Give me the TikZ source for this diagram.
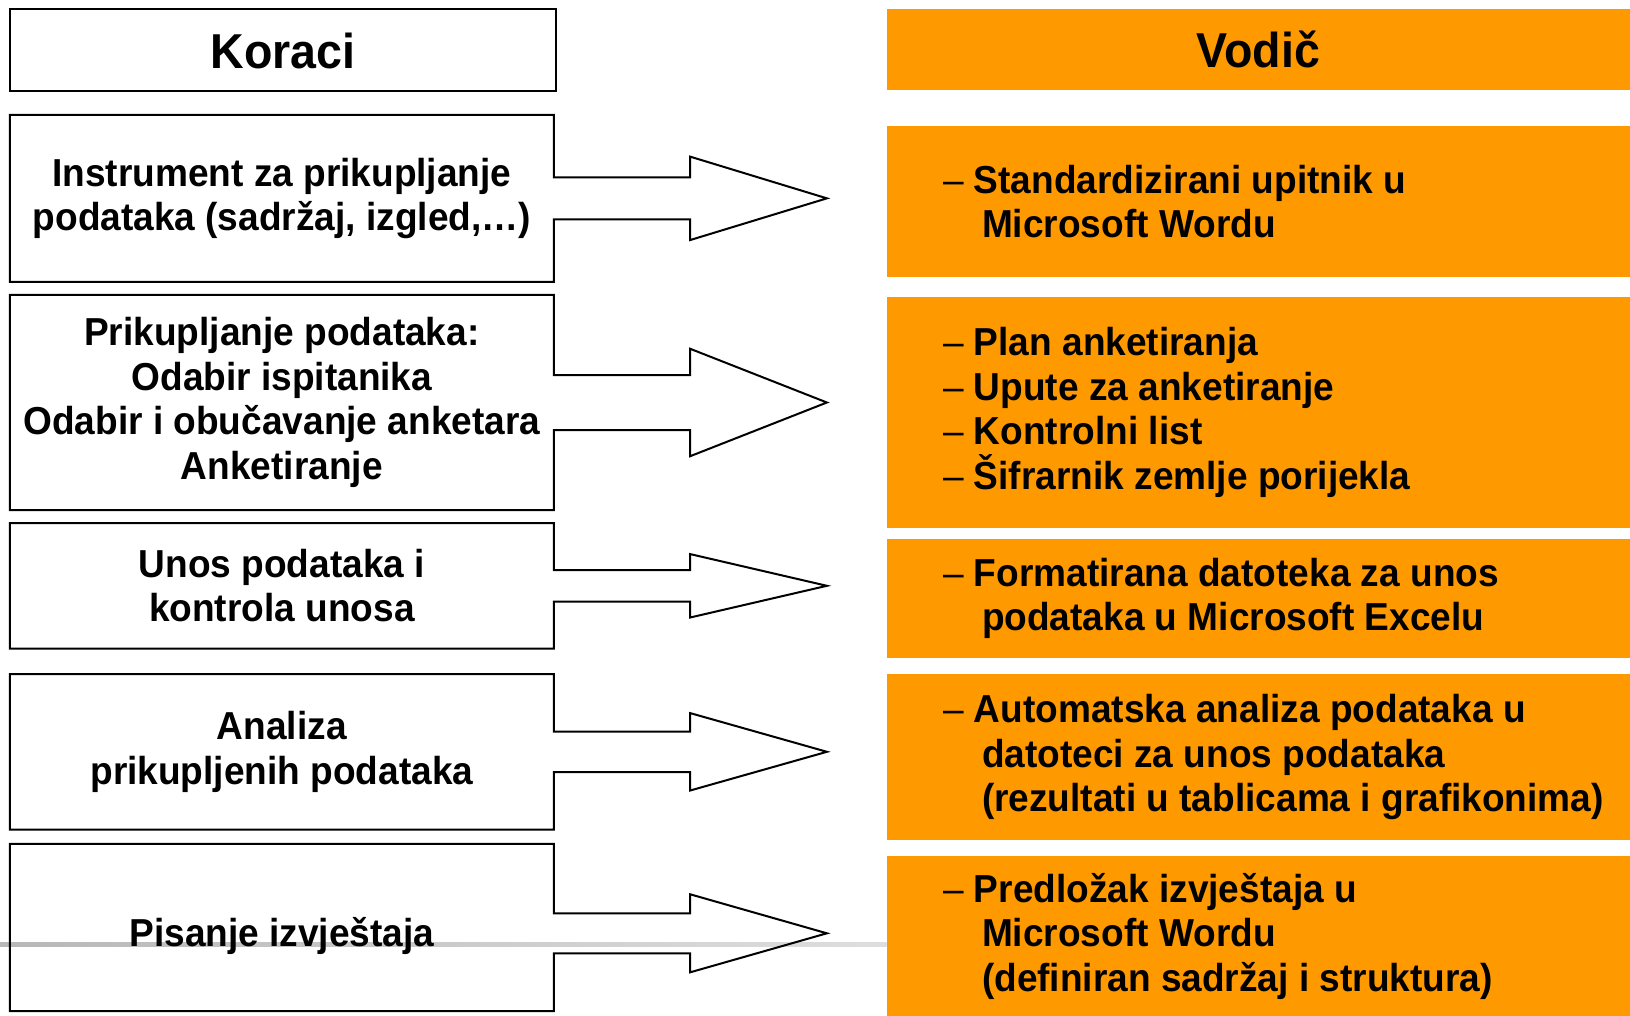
\documentclass[tikz,border=0pt]{standalone}
\usepackage{fontspec}
\setmainfont{Liberation Sans}[FakeStretch=0.95]
\usetikzlibrary{calc}
\definecolor{narancasta}{RGB}{255,153,0}
\newcommand{\tekst}{\fontsize{39}{44.5}\selectfont\bfseries}
\newcommand{\naslov}{\fontsize{49}{55}\selectfont\bfseries}
\tikzset{
  korak/.style={minimum width=543.7pt, inner sep=0pt, align=center, font=\tekst},
  vodic/.style={fill=narancasta, minimum width=743.3pt, inner sep=0pt},
  stavka/.style={anchor=west, align=left, font=\tekst},
  obrub/.style={line width=2pt, line join=miter},
}
% okvir koraka zajedno sa strelicom: cvor, pola drske, pola glave, pomak
\newcommand{\strelica}[4]{%
  \draw[obrub] (#1.north west) -- (#1.north east)
    -- ($(#1.east)+(0,#4-#2)$) -- ($(#1.east)+(136.3,#4-#2)$)
    -- ($(#1.east)+(136.3,#4-#3)$) -- ($(#1.east)+(273,#4)$)
    -- ($(#1.east)+(136.3,#4+#3)$) -- ($(#1.east)+(136.3,#4+#2)$)
    -- ($(#1.east)+(0,#4+#2)$) -- (#1.south east) -- (#1.south west) -- cycle;}
\newcommand{\crta}{{\mdseries –}}
\newcommand{\dalje}{\hspace*{1em}}

\begin{document}
\begin{tikzpicture}[x=1pt,y=-1pt]
  \useasboundingbox (0,0) rectangle (1630,1016);
  % siva crta u pozadini
  \shade[left color=black!28, right color=black!13] (0,942.5) rectangle (886.7,946.5);

  % zaglavlja
  \node[korak, draw, obrub, minimum width=545.6pt, minimum height=82pt, font=\naslov] (k0) at (283.2,50.5) {Koraci};
  \node[vodic, minimum height=81pt, font=\naslov] (v0) at (1258.35,49.9) {Vodič};

  % koraci
  \node[korak, minimum height=166.7pt] (k1) at (281.85,198.35) {Instrument za prikupljanje\\podataka (sadržaj, izgled,…)};
  \node[korak, minimum height=215pt] (k2) at (281.85,402.5) {Prikupljanje podataka:\\Odabir ispitanika\\Odabir i obučavanje anketara\\Anketiranje};
  \node[korak, minimum height=125pt] (k3) at (281.85,585.8) {Unos podataka i\\ kontrola unosa};
  \node[korak, minimum height=155pt] (k4) at (281.85,751.8) {Analiza\\prikupljenih podataka};
  \node[korak, minimum height=167pt] (k5) at (281.85,927.5) {};
  \node[font=\tekst, inner sep=0pt] (p5) at ($(k5.center)+(0,8)$) {Pisanje izvještaja};

  \strelica{k1}{21}{41.7}{0}
  \strelica{k2}{27.5}{53.7}{0}
  \strelica{k3}{15.8}{31.7}{0}
  \strelica{k4}{20.3}{38.7}{0}
  \strelica{k5}{20}{39}{5.8}

  % vodic
  \node[vodic, minimum height=150.7pt] (v1) at (1258.35,201.35) {};
  \node[vodic, minimum height=230.7pt] (v2) at (1258.35,412.35) {};
  \node[vodic, minimum height=118.7pt] (v3) at (1258.35,598.65) {};
  \node[vodic, minimum height=165.7pt] (v4) at (1258.35,757.15) {};
  \node[vodic, minimum height=160pt] (v5) at (1258.35,936) {};

  \node[stavka] (s1) at ($(v1.west)+(53,0)$) {\crta{} Standardizirani upitnik u\\\dalje Microsoft Wordu};
  \node[stavka] (s2) at ($(v2.west)+(53,0)$) {\crta{} Plan anketiranja\\\crta{} Upute za anketiranje\\\crta{} Kontrolni list\\\crta{} Šifrarnik zemlje porijekla};
  \node[stavka] (s3) at ($(v3.west)+(53,0)$) {\crta{} Formatirana datoteka za unos\\\dalje podataka u Microsoft Excelu};
  \node[stavka] (s4) at ($(v4.west)+(53,0)$) {\crta{} Automatska analiza podataka u\\\dalje datoteci za unos podataka\\\dalje (rezultati u tablicama i grafikonima)};
  \node[stavka] (s5) at ($(v5.west)+(53,0)$) {\crta{} Predložak izvještaja u\\\dalje Microsoft Wordu\\\dalje (definiran sadržaj i struktura)};
\end{tikzpicture}
\end{document}
